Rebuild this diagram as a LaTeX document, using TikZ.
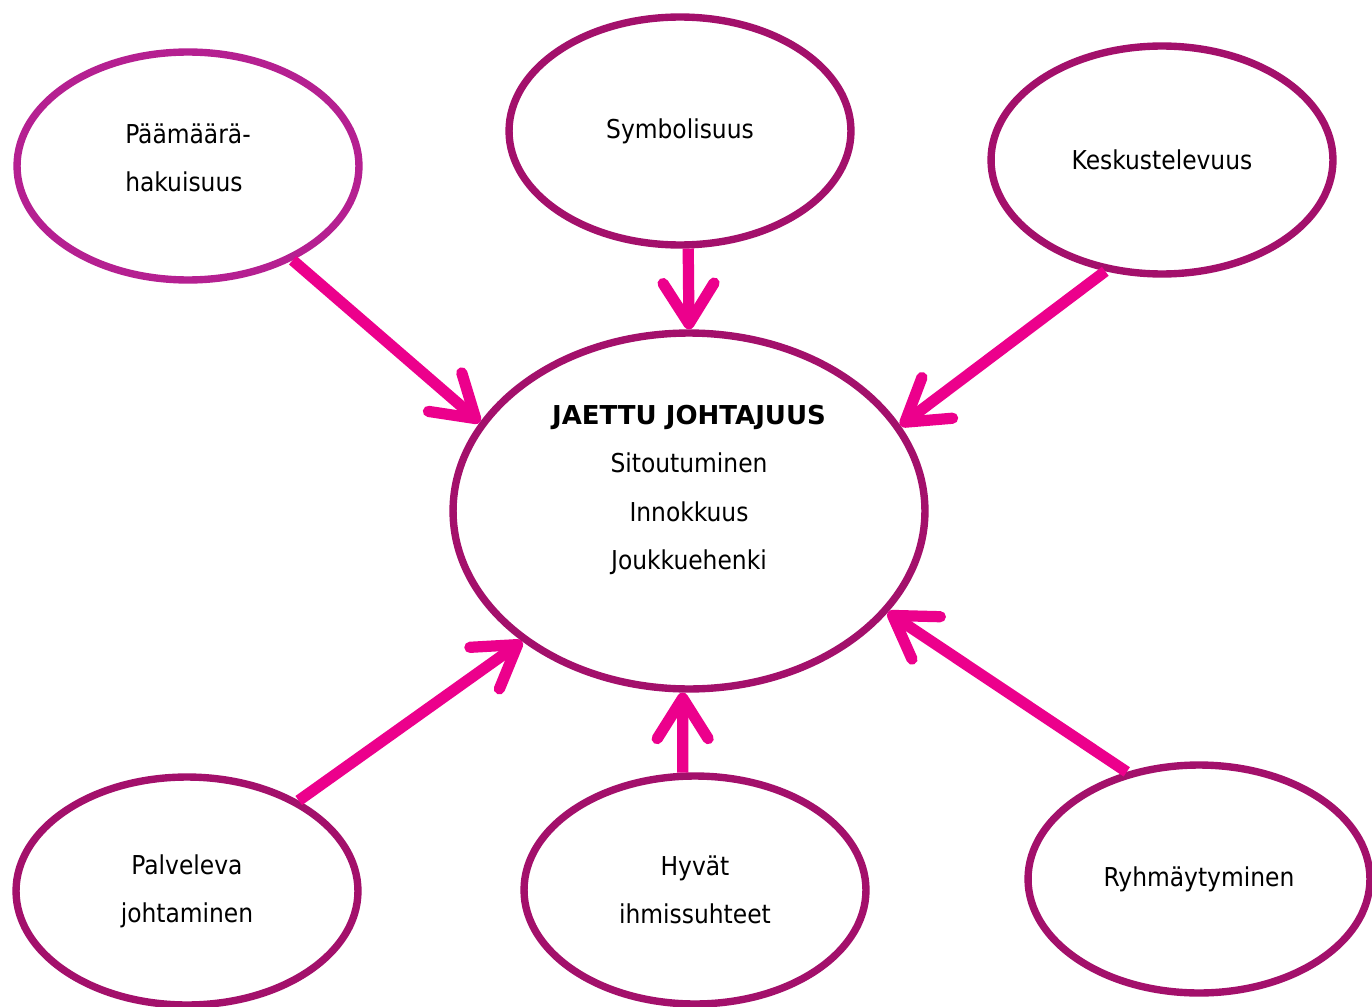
\documentclass[tikz,border=0pt]{standalone}
\usepackage{fontspec}
\setmainfont{DejaVu Sans Condensed}
\newfontfamily\headfont{DejaVu Sans}
\usetikzlibrary{shapes.geometric,arrows.meta}
\definecolor{ringpurple}{RGB}{163,16,107}
\definecolor{ringorchid}{RGB}{181,32,145}
\definecolor{arrowpink}{RGB}{236,0,140}

\begin{document}
\begin{tikzpicture}[
    x=0.02cm, y=-0.02cm,
    bubble/.style={ellipse, draw=ringpurple, line width=4.2pt, fill=white, minimum width=6.84cm, minimum height=4.56cm, inner sep=0pt, align=center, font=\fontsize{14.8}{27.5}\selectfont},
    arrow/.style={-{Straight Barb[length=23pt,width=29pt,round]}, line width=6.4pt, draw=arrowpink}
  ]
    \useasboundingbox[fill=white] (0,0) rectangle (1372,1007);

    \node[bubble, draw=ringorchid, align=left] (paa) at (188,166) {Päämäärä-\\hakuisuus\\[-26pt]\strut};
    \node[bubble] (sym) at (680,131) {Symbolisuus};
    \node[bubble] (kes) at (1162,160) {Keskustelevuus};
    \node[bubble, minimum width=9.44cm, minimum height=7.12cm] (jj) at (689,511) {{\headfont\bfseries JAETTU JOHTAJUUS}\\Sitoutuminen\\Innokkuus\\Joukkuehenki\\[-9pt]\strut};
    \node[bubble] (pal) at (187,891) {Palveleva\\johtaminen};
    \node[bubble] (hyv) at (695,890) {Hyvät\\ihmissuhteet};
    \node[bubble] (ryh) at (1199,879) {Ryhmäytyminen};

    \draw[arrow] (paa.-42) -- (jj.157);
    \draw[arrow] (sym.-86) -- (jj.90);
    \draw[arrow] (kes.243) -- (jj.22);
    \draw[arrow] (pal.39) -- (jj.218);
    \draw[arrow] (hyv.96) -- (jj.268);
    \draw[arrow] (ryh.124) -- (jj.-27);
  \end{tikzpicture}
\end{document}
